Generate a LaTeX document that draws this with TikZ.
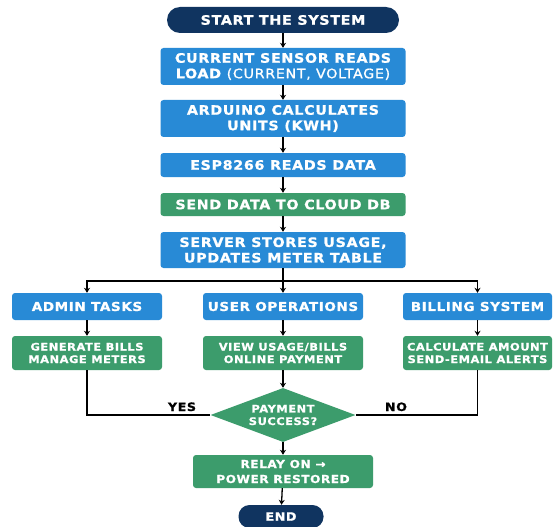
\documentclass[tikz,border=0pt]{standalone}
\usepackage{fontspec}
\setmainfont{DejaVu Sans}
\newfontfamily\boxfont[LetterSpace=5,FakeStretch=1.1,FakeBold=1]{DejaVu Sans}
\usepackage{xcolor}
\usetikzlibrary{shapes.geometric,arrows.meta}

\definecolor{navy}{RGB}{16,52,96}
\definecolor{stepblue}{RGB}{40,138,214}
\definecolor{stepgreen}{RGB}{60,156,108}

\tikzset{
  basebox/.style={text=white, align=center, inner sep=0pt},
  bigtext/.style={font=\boxfont\bfseries\fontsize{13pt}{15.5pt}\selectfont},
  midtext/.style={font=\boxfont\bfseries\fontsize{12.3pt}{15pt}\selectfont},
  smalltext/.style={font=\boxfont\bfseries\fontsize{10.4pt}{12.5pt}\selectfont},
  terminal/.style={basebox, fill=navy},
  bluebox/.style={basebox, fill=stepblue, rounded corners=3pt},
  greenbox/.style={basebox, fill=stepgreen, rounded corners=3pt},
  decision/.style={basebox, smalltext, fill=stepgreen, diamond, aspect=2.68,
    minimum width=145pt, minimum height=54pt},
  flow/.style={line width=1.3pt, -{Stealth[length=5pt,width=6pt]}},
  link/.style={line width=1.3pt},
  lbl/.style={font=\boxfont\bfseries\fontsize{11.5pt}{13pt}\selectfont, inner sep=0pt}
}

\begin{document}
\begin{tikzpicture}[x=1pt,y=-1pt]
  \fill[white] (0,0) rectangle (555,527);
  \useasboundingbox (0,0) rectangle (555,527);

  % Main column
  \node[terminal, bigtext, rounded corners=13pt, minimum width=232pt, minimum height=26pt] (start) at (283,20) {START THE SYSTEM};
  \node[bluebox, bigtext, minimum width=245pt, minimum height=37pt] (sensor) at (283,66.5) {CURRENT SENSOR READS\\LOAD {\mdseries (CURRENT, VOLTAGE)}};
  \node[bluebox, bigtext, minimum width=245pt, minimum height=37pt] (arduino) at (283,118.5) {ARDUINO CALCULATES\\UNITS (KWH)};
  \node[bluebox, bigtext, minimum width=245pt, minimum height=24pt] (esp) at (283,165) {ESP8266 READS DATA};
  \node[greenbox, bigtext, minimum width=245pt, minimum height=23pt] (send) at (283,204.5) {SEND DATA TO CLOUD DB};
  \node[bluebox, bigtext, minimum width=245pt, minimum height=36pt] (server) at (283,250) {SERVER STORES USAGE,\\UPDATES METER TABLE};

  \draw[flow] (start) -- (sensor);
  \draw[flow] (sensor) -- (arduino);
  \draw[flow] (arduino) -- (esp);
  \draw[flow] (esp) -- (send);
  \draw[flow] (send) -- (server);

  % Three branches
  \coordinate (split) at (283,281);
  \node[bluebox, midtext, minimum width=150pt, minimum height=27pt] (admin) at (87,306.5) {ADMIN TASKS};
  \node[bluebox, midtext, minimum width=160pt, minimum height=27pt] (user) at (283,306.5) {USER OPERATIONS};
  \node[bluebox, midtext, minimum width=149pt, minimum height=27pt] (billing) at (477.5,306.5) {BILLING SYSTEM};
  \node[greenbox, smalltext, minimum width=150pt, minimum height=34pt] (gen) at (87,353) {GENERATE BILLS\\MANAGE METERS};
  \node[greenbox, smalltext, minimum width=160pt, minimum height=34pt] (view) at (283,353) {VIEW USAGE/BILLS\\ONLINE PAYMENT};
  \node[greenbox, smalltext, minimum width=149pt, minimum height=34pt] (calc) at (477.5,353) {CALCULATE AMOUNT\\SEND-EMAIL ALERTS};

  \draw[link] (server) -- (split);
  \draw[flow] (split) -| (admin);
  \draw[flow] (split) -- (user);
  \draw[flow] (split) -| (billing);
  \draw[flow] (admin) -- (gen);
  \draw[flow] (user) -- (view);
  \draw[flow] (billing) -- (calc);

  % Payment check
  \node[decision] (pay) at (283,415) {PAYMENT\\SUCCESS?};
  \node[greenbox, smalltext, font=\boxfont\bfseries\fontsize{11pt}{15pt}\selectfont, minimum width=180pt, minimum height=33pt] (relay) at (283,471.5) {RELAY ON →\\POWER RESTORED};
  \node[terminal, smalltext, font=\boxfont\bfseries\fontsize{11.5pt}{13pt}\selectfont, rounded corners=11pt, minimum width=85pt, minimum height=23pt] (end) at (281,516.5) {END};

  \draw[link] (gen) |- (pay.west);
  \draw[link] (calc) |- (pay.east);
  \draw[flow] (view) -- (pay);
  \draw[flow] (pay) -- (relay);
  \draw[flow] (relay) -- (end);

  \node[lbl, anchor=base] (yes) at (182,411) {YES};
  \node[lbl, anchor=base] (no) at (396,411) {NO};
\end{tikzpicture}
\end{document}
